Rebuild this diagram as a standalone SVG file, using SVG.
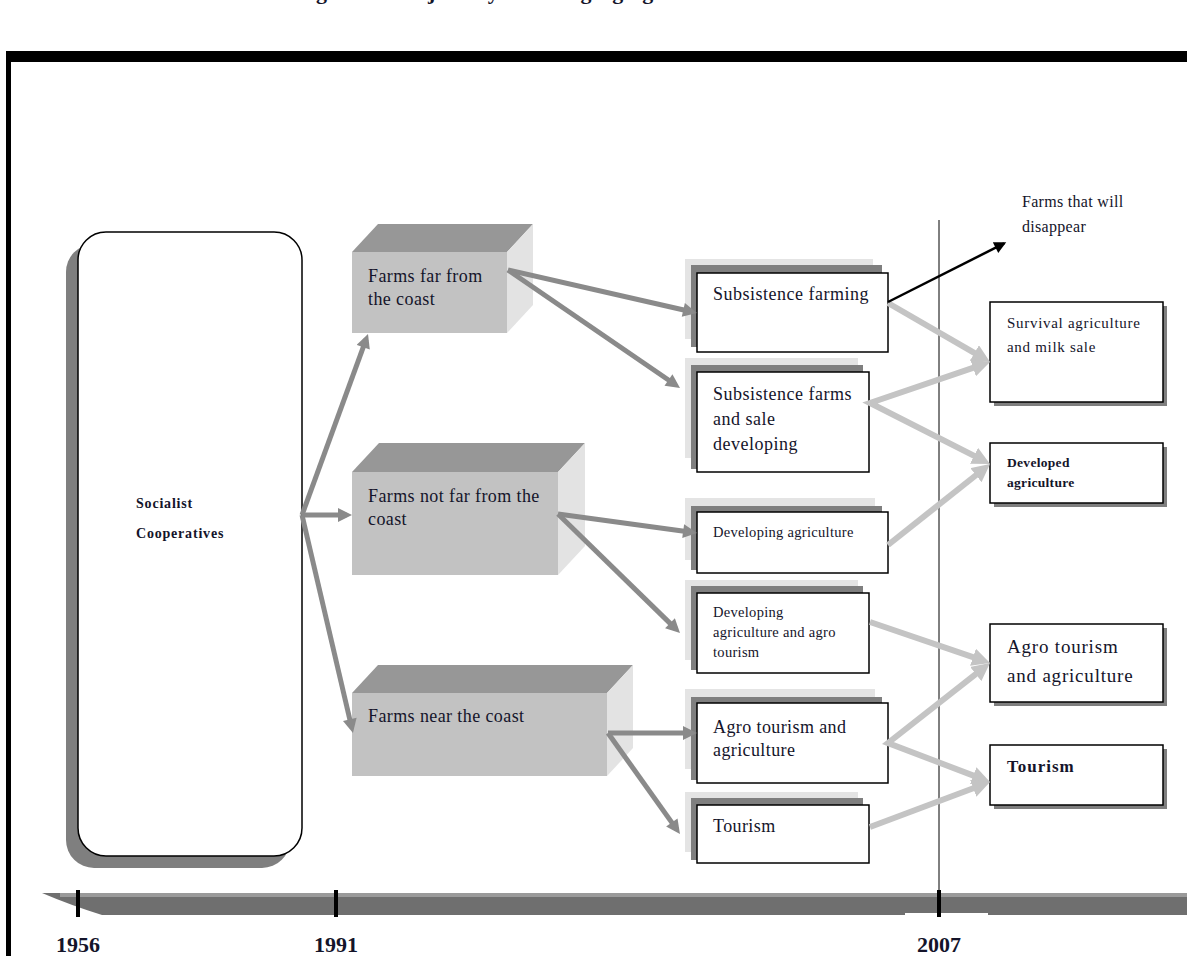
<svg xmlns="http://www.w3.org/2000/svg" width="1187" height="956" viewBox="0 0 1187 956">
<style>
.t{font-family:"Liberation Serif","Times New Roman",serif;fill:#14142a}
.b{font-weight:bold}
.front{fill:#c2c2c2}
.top{fill:#979797}
.side{fill:#e3e3e3}
.lite{fill:#e4e4e4}
.dark{fill:#7f7f7f}
.box{fill:#fff;stroke:#000;stroke-width:1.5}
.ga{stroke:#8a8a8a;stroke-width:5;fill:none}
.la{stroke:#c4c4c4;stroke-width:6;fill:none}
</style>
<defs>
<marker id="mg" viewBox="0 0 10 10" refX="6" refY="5" markerWidth="15" markerHeight="14" markerUnits="userSpaceOnUse" orient="auto"><path d="M0,0 L10,5 L0,10 z" fill="#8a8a8a"/></marker>
<marker id="ml" viewBox="0 0 10 10" refX="6" refY="5" markerWidth="18" markerHeight="18" markerUnits="userSpaceOnUse" orient="auto-start-reverse"><path d="M0,0 L10,5 L0,10 z" fill="#c4c4c4"/></marker>
<marker id="mb" viewBox="0 0 10 10" refX="8" refY="5" markerWidth="16" markerHeight="12" markerUnits="userSpaceOnUse" orient="auto"><path d="M0,0 L10,5 L0,10 z" fill="#000"/></marker>
</defs>
<rect width="1187" height="956" fill="#fff"/>
<text class="t b" x="612" y="-1" font-size="22" letter-spacing="0.8" text-anchor="middle">Figure 3. Trajectory of changing agricultural farms in Albania</text>
<g id="frame">
<rect x="6" y="51" width="1181" height="11" fill="#000"/>
<rect x="6" y="51" width="5" height="905" fill="#000"/>
</g>
<g id="timeline">
<path d="M42,893 L1187,893 L1187,915 L102,915 Q70,905 42,893 z" fill="#6f6f6f"/>
<rect x="60" y="893" width="1127" height="4" fill="#9a9a9a"/>
<rect x="905" y="913" width="83" height="4" fill="#fff"/>
<line x1="78" y1="890" x2="78" y2="917" stroke="#000" stroke-width="4"/>
<line x1="336" y1="890" x2="336" y2="917" stroke="#000" stroke-width="4"/>
<line x1="939" y1="890" x2="939" y2="917" stroke="#000" stroke-width="4"/>
<text class="t b" x="78" y="952" font-size="22" text-anchor="middle">1956</text>
<text class="t b" x="336" y="952" font-size="22" text-anchor="middle">1991</text>
<text class="t b" x="939" y="952" font-size="22" text-anchor="middle">2007</text>
</g>
<line id="divider" x1="939" y1="220" x2="939" y2="892" stroke="#000" stroke-width="1"/>
<g id="socialist">
<rect x="66" y="244" width="224" height="624" rx="28" fill="#7f7f7f"/>
<rect x="78" y="232" width="224" height="624" rx="28" class="box"/>
<text class="t b" x="136" y="508" font-size="14" letter-spacing="0.8">Socialist</text>
<text class="t b" x="136" y="538" font-size="14" letter-spacing="0.8">Cooperatives</text>
</g>
<g id="far">
<polygon class="top" points="352,252 378,224 533,224 507,252"/>
<polygon class="side" points="507,252 533,224 533,305 507,333"/>
<rect class="front" x="352" y="252" width="155" height="81"/>
<text class="t" x="368" y="282" font-size="18" letter-spacing="0.4">Farms far from</text>
<text class="t" x="368" y="305" font-size="18" letter-spacing="0.4">the coast</text>
</g>
<g id="notfar">
<polygon class="top" points="352,472 379,443 585,443 558,472"/>
<polygon class="side" points="558,472 585,443 585,546 558,575"/>
<rect class="front" x="352" y="472" width="206" height="103"/>
<text class="t" x="368" y="502" font-size="18" letter-spacing="0.4">Farms not far from the</text>
<text class="t" x="368" y="525" font-size="18" letter-spacing="0.4">coast</text>
</g>
<g id="near">
<polygon class="top" points="352,693 378,665 633,665 607,693"/>
<polygon class="side" points="607,693 633,665 633,748 607,776"/>
<rect class="front" x="352" y="693" width="255" height="83"/>
<text class="t" x="368" y="722" font-size="18" letter-spacing="0.4">Farms near the coast</text>
</g>
<g id="subsistence">
<rect class="lite" x="685" y="259" width="188" height="80"/>
<rect class="dark" x="691" y="265" width="191" height="82"/>
<rect class="box" x="697" y="273" width="191" height="79"/>
<text class="t" x="713" y="300" font-size="18" letter-spacing="0.5">Subsistence farming</text>
</g>
<g id="subsale">
<rect class="lite" x="685" y="358" width="173" height="100"/>
<rect class="dark" x="691" y="365" width="172" height="104"/>
<rect class="box" x="697" y="372" width="172" height="100"/>
<text class="t" x="713" y="400" font-size="18" letter-spacing="0.5">Subsistence farms</text>
<text class="t" x="713" y="425" font-size="18" letter-spacing="0.5">and sale</text>
<text class="t" x="713" y="450" font-size="18" letter-spacing="0.5">developing</text>
</g>
<g id="devagri">
<rect class="lite" x="685" y="498" width="190" height="62"/>
<rect class="dark" x="691" y="506" width="191" height="64"/>
<rect class="box" x="697" y="512" width="191" height="61"/>
<text class="t" x="713" y="537" font-size="14.5" letter-spacing="0.3">Developing agriculture</text>
</g>
<g id="devagro">
<rect class="lite" x="685" y="580" width="173" height="80"/>
<rect class="dark" x="691" y="586" width="172" height="84"/>
<rect class="box" x="697" y="593" width="172" height="80"/>
<text class="t" x="713" y="617" font-size="14.5" letter-spacing="0.3">Developing</text>
<text class="t" x="713" y="637" font-size="14.5" letter-spacing="0.3">agriculture and agro</text>
<text class="t" x="713" y="657" font-size="14.5" letter-spacing="0.3">tourism</text>
</g>
<g id="agrotour">
<rect class="lite" x="685" y="689" width="190" height="80"/>
<rect class="dark" x="691" y="697" width="191" height="83"/>
<rect class="box" x="697" y="703" width="191" height="80"/>
<text class="t" x="713" y="733" font-size="18" letter-spacing="0.4">Agro tourism and</text>
<text class="t" x="713" y="756" font-size="18" letter-spacing="0.4">agriculture</text>
</g>
<g id="tourism">
<rect class="lite" x="685" y="792" width="173" height="60"/>
<rect class="dark" x="691" y="798" width="172" height="62"/>
<rect class="box" x="697" y="805" width="172" height="58"/>
<text class="t" x="713" y="832" font-size="18" letter-spacing="0.4">Tourism</text>
</g>
<g id="disappear">
<text class="t" x="1022" y="207" font-size="16" letter-spacing="0.3">Farms that will</text>
<text class="t" x="1022" y="232" font-size="16" letter-spacing="0.3">disappear</text>
</g>
<g id="survival">
<rect class="dark" x="994" y="306" width="173" height="100"/>
<rect class="box" x="990" y="302" width="173" height="100"/>
<text class="t" x="1007" y="328" font-size="15" letter-spacing="0.7">Survival agriculture</text>
<text class="t" x="1007" y="352" font-size="15" letter-spacing="0.7">and milk sale</text>
</g>
<g id="developed">
<rect class="dark" x="994" y="447" width="173" height="60"/>
<rect class="box" x="990" y="443" width="173" height="60"/>
<text class="t b" x="1007" y="467" font-size="13.5" letter-spacing="0.3">Developed</text>
<text class="t b" x="1007" y="487" font-size="13.5" letter-spacing="0.3">agriculture</text>
</g>
<g id="agrotour2007">
<rect class="dark" x="994" y="628" width="173" height="78"/>
<rect class="box" x="990" y="624" width="173" height="78"/>
<text class="t" x="1007" y="653" font-size="19" letter-spacing="0.8">Agro tourism</text>
<text class="t" x="1007" y="682" font-size="19" letter-spacing="0.8">and agriculture</text>
</g>
<g id="tourism2007">
<rect class="dark" x="994" y="749" width="173" height="60"/>
<rect class="box" x="990" y="745" width="173" height="60"/>
<text class="t b" x="1007" y="772" font-size="17" letter-spacing="1">Tourism</text>
</g>
<g id="connectors">
<line class="ga" x1="302" y1="515" x2="366.1" y2="339.3" marker-end="url(#mg)"/>
<line class="ga" x1="302" y1="515" x2="346.4" y2="515" marker-end="url(#mg)"/>
<line class="ga" x1="302" y1="515" x2="351.7" y2="727.5" marker-end="url(#mg)"/>
<line class="ga" x1="508" y1="270" x2="691.5" y2="311.8" marker-end="url(#mg)"/>
<line class="ga" x1="508" y1="270" x2="675.4" y2="384.8" marker-end="url(#mg)"/>
<line class="ga" x1="558" y1="514" x2="691.5" y2="532.2" marker-end="url(#mg)"/>
<line class="ga" x1="558" y1="514" x2="676" y2="629.1" marker-end="url(#mg)"/>
<line class="ga" x1="608" y1="733" x2="691.4" y2="733" marker-end="url(#mg)"/>
<line class="ga" x1="608" y1="733" x2="676.7" y2="829.4" marker-end="url(#mg)"/>
<line class="la" x1="888" y1="303" x2="983.8" y2="358.4" marker-end="url(#ml)"/>
<path class="la" d="M983.2,364.3 L870,403 L983.6,460.7" marker-start="url(#ml)" marker-end="url(#ml)"/>
<line class="la" x1="888" y1="545" x2="984.4" y2="468.5" marker-end="url(#ml)"/>
<line class="la" x1="870" y1="622" x2="983.2" y2="660.7" marker-end="url(#ml)"/>
<path class="la" d="M984.3,667.4 L888,743 L983.3,779.4" marker-start="url(#ml)" marker-end="url(#ml)"/>
<line class="la" x1="870" y1="827" x2="983.3" y2="784.5" marker-end="url(#ml)"/>
<line x1="888" y1="302" x2="1004.1" y2="243.4" stroke="#000" stroke-width="2.5" marker-end="url(#mb)"/>
</g>
</svg>
